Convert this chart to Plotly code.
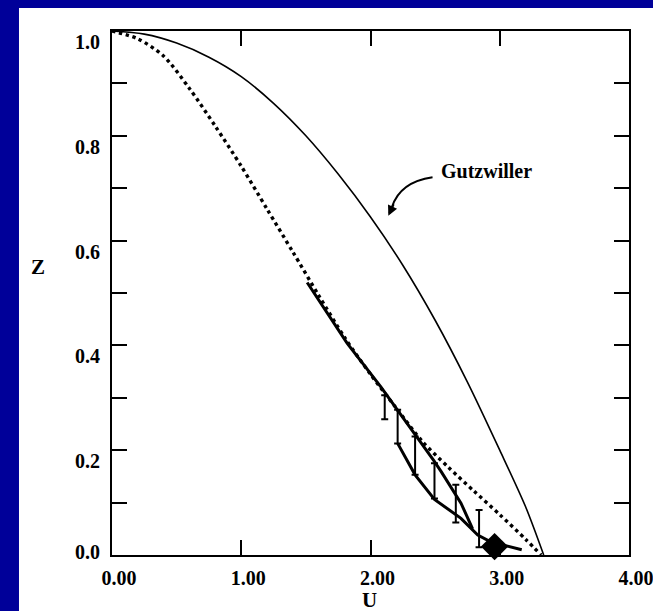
import plotly.graph_objects as go

# ---- data ----
gutz_u = [0, 0.25, 0.5, 0.75, 1.0, 1.25, 1.5, 1.75, 2.0, 2.25, 2.5, 2.75, 3.0, 3.2, 3.34]
gutz_z = [1.0, 0.994, 0.977, 0.950, 0.913, 0.862, 0.80, 0.727, 0.645, 0.553, 0.448, 0.33, 0.20, 0.092, 0.0]

dot_u = [0, 0.2, 0.4, 0.6, 0.8, 1.0, 1.2, 1.4, 1.6, 1.8, 2.0, 2.2, 2.4, 2.6, 2.8, 3.0, 3.2, 3.32]
dot_z = [1.0, 0.985, 0.952, 0.890, 0.818, 0.742, 0.660, 0.578, 0.495, 0.415, 0.345, 0.28, 0.217, 0.168, 0.122, 0.077, 0.03, 0.0]

upper_u = [1.51, 1.82, 2.08, 2.21, 2.35, 2.49, 2.547, 2.70, 2.79]
upper_z = [0.52, 0.404, 0.321, 0.277, 0.229, 0.18, 0.159, 0.099, 0.05]

lower_u = [2.21, 2.345, 2.495, 2.70, 2.83, 2.93, 3.17]
lower_z = [0.213, 0.153, 0.106, 0.070, 0.038, 0.025, 0.01]

err_u = [2.11, 2.21, 2.345, 2.495, 2.66, 2.84]
err_lo = [0.259, 0.213, 0.153, 0.108, 0.062, 0.015]
err_hi = [0.305, 0.277, 0.226, 0.175, 0.134, 0.086]

diamond_u = [2.96]
diamond_z = [0.016]

x_ticks = [0, 1, 2, 3, 4]
x_tick_labels = ["0.00", "1.00", "2.00", "3.00", "4.00"]
y_ticks = [0.0, 0.1, 0.2, 0.3, 0.4, 0.5, 0.6, 0.7, 0.8, 0.9, 1.0]
y_tick_labels = ["", "", "0.2", "", "0.4", "", "0.6", "", "0.8", "", "1.0"]

FONT = "Liberation Serif"
BLUE = "#000099"

fig = go.Figure()

fig.add_trace(go.Scatter(x=gutz_u, y=gutz_z, mode="lines",
                         line=dict(color="black", width=1.6, shape="spline", smoothing=0.8),
                         showlegend=False, hoverinfo="skip"))
fig.add_trace(go.Scatter(x=dot_u, y=dot_z, mode="lines",
                         line=dict(color="black", width=3.4, dash="3.4px,3.6px", shape="spline", smoothing=0.8),
                         showlegend=False, hoverinfo="skip"))
fig.add_trace(go.Scatter(x=upper_u, y=upper_z, mode="lines",
                         line=dict(color="black", width=3),
                         showlegend=False, hoverinfo="skip"))
fig.add_trace(go.Scatter(x=lower_u, y=lower_z, mode="lines",
                         line=dict(color="black", width=3),
                         showlegend=False, hoverinfo="skip"))
fig.add_trace(go.Scatter(
    x=err_u, y=err_lo, mode="markers",
    marker=dict(size=1, opacity=0),
    error_y=dict(type="data", symmetric=False,
                 array=[h - l for h, l in zip(err_hi, err_lo)],
                 arrayminus=[0] * len(err_lo),
                 color="black", thickness=2, width=3.5),
    showlegend=False, hoverinfo="skip"))
fig.add_trace(go.Scatter(x=diamond_u, y=diamond_z, mode="markers",
                         marker=dict(symbol="diamond", size=21, color="black"),
                         showlegend=False, hoverinfo="skip", cliponaxis=False))

# blue frame strips (top and left) around the white page
fig.add_shape(type="rect", xref="paper", yref="paper",
              x0=-0.4, x1=-0.1799, y0=-0.3, y1=1.3,
              fillcolor=BLUE, line=dict(width=0), layer="below")
fig.add_shape(type="rect", xref="paper", yref="paper",
              x0=-0.4, x1=1.3, y0=1.0439, y1=1.3,
              fillcolor=BLUE, line=dict(width=0), layer="below")

# curved Gutzwiller arrow
fig.add_shape(type="path", xref="x", yref="y",
              path="M 2.48,0.721 Q 2.228,0.712 2.166,0.664",
              line=dict(color="black", width=2))
fig.add_annotation(x=2.138, y=0.6475, xref="x", yref="y", text="",
                   showarrow=True, arrowhead=2, arrowsize=1, arrowwidth=2,
                   arrowcolor="black", ax=6, ay=-13, standoff=0)
fig.add_annotation(x=2.53, y=0.733, xref="x", yref="y", text="<b>Gutzwiller</b>",
                   showarrow=False, xanchor="left", yanchor="middle",
                   font=dict(family=FONT, size=20, color="black"))

# axis titles
fig.add_annotation(x=0.499, y=-0.086, xref="paper", yref="paper", text="<b>U</b>",
                   showarrow=False, xanchor="center", yanchor="middle",
                   font=dict(family=FONT, size=21, color="black"))
fig.add_annotation(x=-0.143, y=0.5496, xref="paper", yref="paper", text="<b>Z</b>",
                   showarrow=False, xanchor="center", yanchor="middle",
                   font=dict(family=FONT, size=21, color="black"))
# 0.0 label (sits differently from the other y labels)
fig.add_annotation(x=0, y=0, xref="paper", yref="y", text="<b>0.0</b>",
                   showarrow=False, xanchor="right", yanchor="middle",
                   xshift=-10, yshift=3,
                   font=dict(family=FONT, size=20, color="black"))

axis_common = dict(showgrid=False, zeroline=False, showline=True, linecolor="black",
                   linewidth=2, mirror="ticks", ticks="inside", ticklen=15,
                   tickwidth=2, tickcolor="black", ticklabeloverflow="allow",
                   automargin=False,
                   tickfont=dict(family=FONT, size=20, color="black"))

fig.update_xaxes(range=[0, 4], tickvals=x_ticks, ticktext=[f"<b>{t}</b>" for t in x_tick_labels],
                 ticklabelshift=7, ticklabelstandoff=4, **axis_common)
fig.update_yaxes(range=[0, 1], tickvals=y_ticks,
                 ticktext=[f"<b>{t}</b>" if t else "" for t in y_tick_labels],
                 ticklabelshift=11, ticklabelstandoff=6, **axis_common)

fig.update_layout(width=653, height=611,
                  margin=dict(l=112, r=24, t=31, b=56),
                  paper_bgcolor="white", plot_bgcolor="white",
                  showlegend=False)

fig.write_html("out.html")
